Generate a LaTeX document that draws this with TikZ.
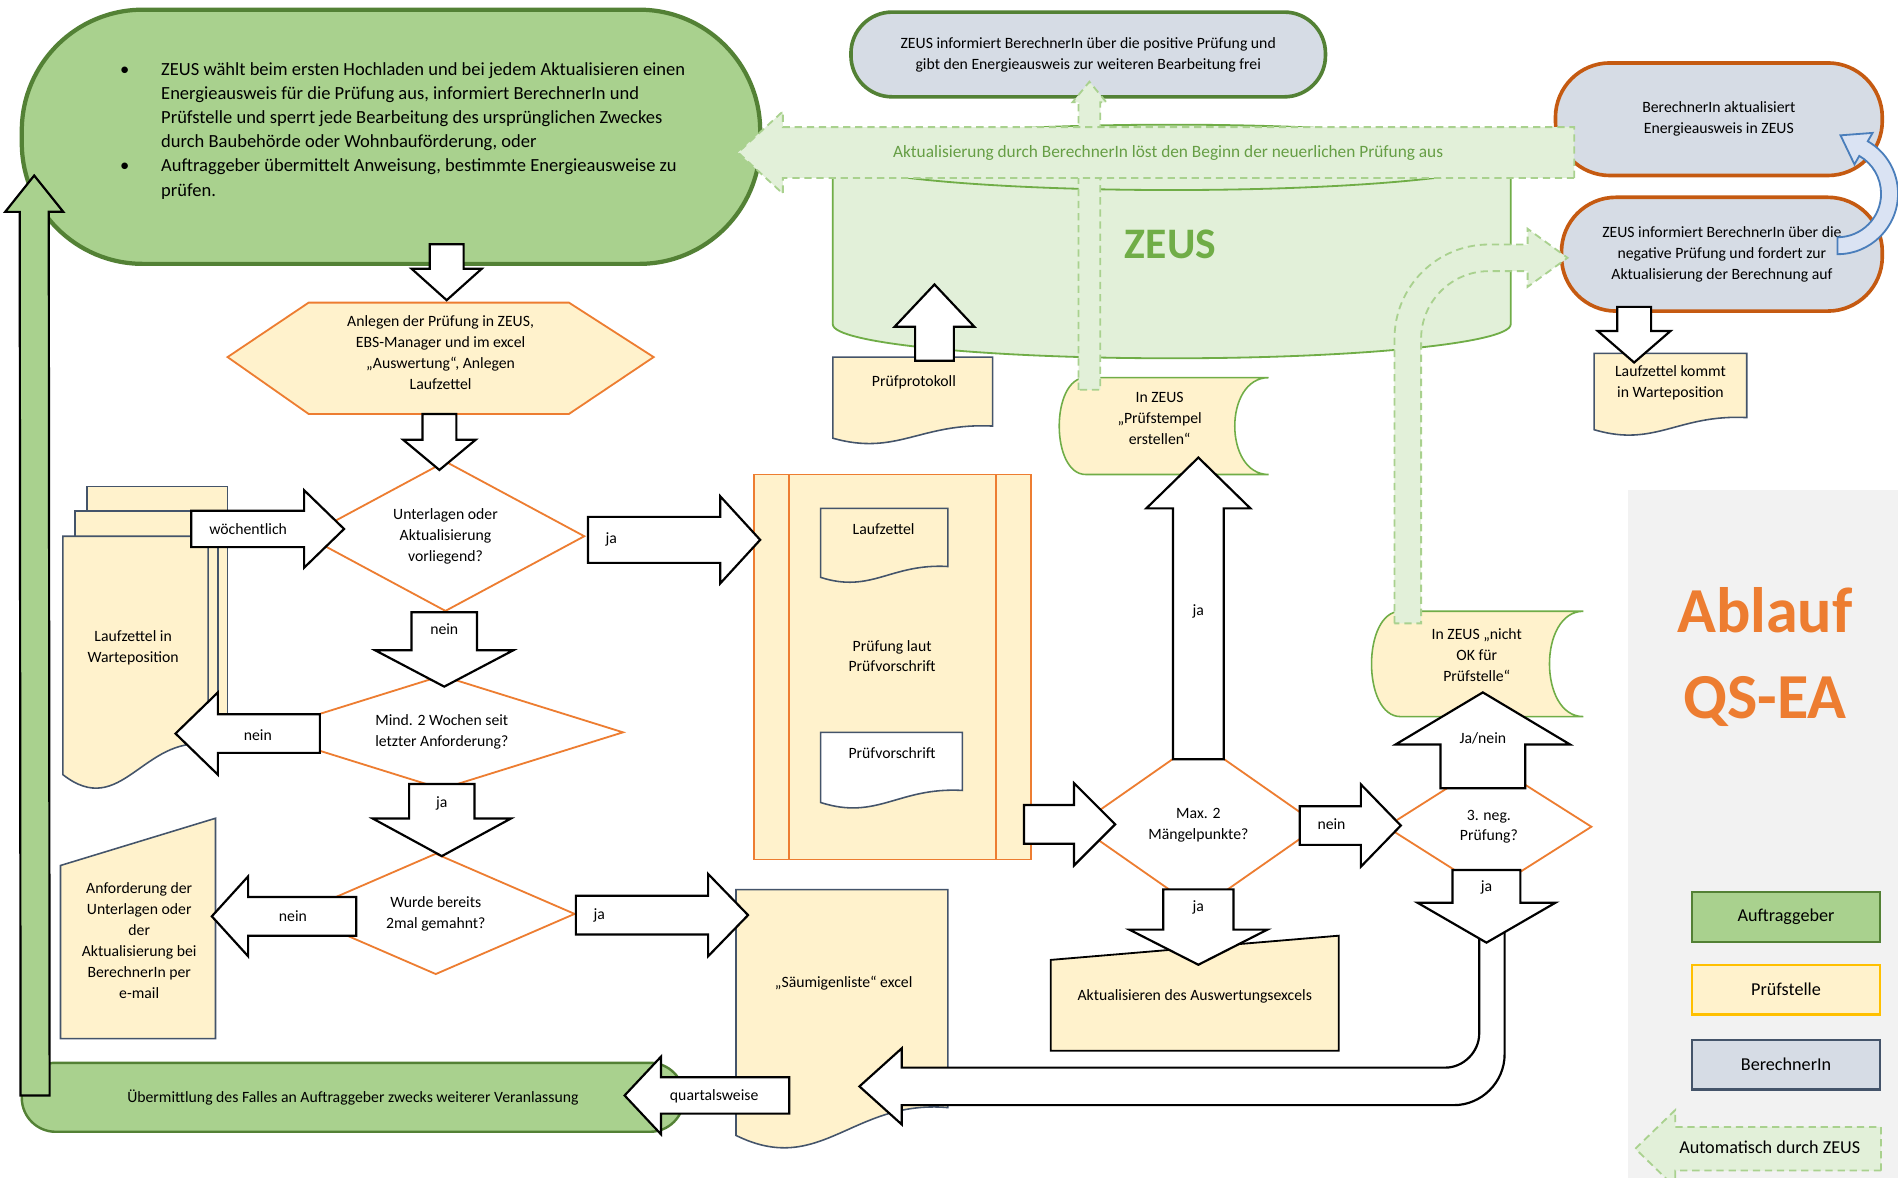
\documentclass[tikz,border=0pt]{standalone}
\usepackage{fontspec}
\setmainfont{Carlito}
\usetikzlibrary{shapes.geometric,calc}

\definecolor{auftraggruen}{HTML}{A9D18E}
\definecolor{auftragrand}{HTML}{538135}
\definecolor{pruefgelb}{HTML}{FFF2CC}
\definecolor{pruefrand}{HTML}{ED7D31}
\definecolor{legendgelb}{HTML}{FFC000}
\definecolor{berechnerblau}{HTML}{D6DCE5}
\definecolor{dokrand}{HTML}{44546A}
\definecolor{berechnerrand}{HTML}{C55A11}
\definecolor{zeusgruen}{HTML}{E2F0D9}
\definecolor{zeusrand}{HTML}{70AD47}
\definecolor{zeustext}{HTML}{669E45}
\definecolor{zeuslinie}{HTML}{A9D18E}
\definecolor{bogenblau}{HTML}{DAE3F3}
\definecolor{bogenrand}{HTML}{4A7EBB}
\definecolor{legendgrau}{HTML}{F2F2F2}

\newcommand{\smalltxt}{\fontsize{13}{17.3}\selectfont}
\newcommand{\legendtxt}{\fontsize{15}{18}\selectfont}

\tikzset{
  txt/.style={font=\smalltxt, align=center, inner sep=0pt},
  blockarrow/.style={draw=black, fill=white, line width=1.8pt, line join=miter},
  zeusarrow/.style={draw=zeuslinie, fill=zeusgruen, line width=1.5pt, dash pattern=on 6pt off 4pt},
  decision/.style={diamond, draw=pruefrand, fill=white, line width=1.5pt, inner sep=0pt, font=\smalltxt, align=center},
  prepshape/.style={draw=pruefrand, fill=pruefgelb, line width=1.5pt},
  docshape/.style={draw=dokrand, fill=pruefgelb, line width=1.3pt},
  stored/.style={draw=zeusrand, fill=pruefgelb, line width=1.3pt},
  terminal/.style={rectangle, line width=3pt, inner sep=0pt, font=\smalltxt, align=center},
  legendbox/.style={rectangle, line width=2pt, minimum width=155pt, minimum height=41pt, font=\legendtxt}
}

% block arrow: [options]{tail}{tip}{shaft half width}{head half width}{head length}
\newcommand{\barrow}[6][]{%
  \coordinate (ba-t) at (#2);
  \coordinate (ba-p) at (#3);
  \coordinate (ba-b) at ($(ba-p)!#6!(ba-t)$);
  \draw[blockarrow,#1] ($(ba-t)!#4!90:(ba-p)$) -- ($(ba-b)!#4!90:(ba-p)$)
    -- ($(ba-b)!#5!90:(ba-p)$) -- (ba-p) -- ($(ba-b)!#5!-90:(ba-p)$)
    -- ($(ba-b)!#4!-90:(ba-p)$) -- ($(ba-t)!#4!-90:(ba-p)$) -- cycle;}

% document: [options]{x1}{top}{x2}{right bottom}{left bottom}
\newcommand{\dokument}[6][]{%
  \draw[docshape,#1] (#2,#3) -- (#4,#3) -- (#4,#5)
    .. controls ({#4-0.45*(#4-#2)},{#5-0.3*(#6-#5)}) and ({#2+0.4*(#4-#2)},{#6+1.5*(#6-#5)}) .. (#2,#6) -- cycle;}

% stored data: {x1}{y1}{x2}{y2}{left bulge}{right hollow}
\newcommand{\speicher}[6]{%
  \draw[stored] ({#1+#5},#2) -- (#3,#2) .. controls ({#3-1.33*#6},#2) and ({#3-1.33*#6},#4) .. (#3,#4)
    -- ({#1+#5},#4) .. controls ({#1-0.33*#5},#4) and ({#1-0.33*#5},#2) .. ({#1+#5},#2) -- cycle;}

\begin{document}
\begin{tikzpicture}[x=1pt,y=-1pt]
\useasboundingbox (0,0) rectangle (1568,973);
\fill[white] (0,0) rectangle (1568,973);
\fill[legendgrau] (1345,405) rectangle (1568,973);

% ZEUS
\draw[zeusrand, fill=zeusgruen, line width=1.5pt] (688,130) -- (688,268)
  arc[start angle=180, end angle=0, x radius=280, y radius=28] -- (1248,130)
  arc[start angle=0, end angle=-180, x radius=280, y radius=27] -- cycle;
\draw[zeusrand, line width=1.5pt] (688,130) arc[start angle=180, end angle=0, x radius=280, y radius=27];
\node[font=\fontsize{36}{40}\selectfont\bfseries, text=zeusrand] (zeus) at (967,202) {ZEUS};

\speicher{875}{312}{1048}{392}{22}{28}
\node[txt] (stempel) at (958,346) {In ZEUS\\„Prüfstempel\\erstellen“};

\node[terminal, draw=auftragrand, fill=berechnerblau, minimum width=392pt, minimum height=70pt, rounded corners=34pt] (positiv) at (899,45)
  {ZEUS informiert BerechnerIn über die positive Prüfung und\\gibt den Energieausweis zur weiteren Bearbeitung frei};

\node[terminal, draw=auftragrand, fill=auftraggruen, line width=3.5pt, minimum width=610pt, minimum height=210pt, rounded corners=100pt] (auftrag) at (323,113) {};
\node[anchor=west, inner sep=0pt, font=\fontsize{15.3}{20}\selectfont] (auftragtxt) at (95,108) {%
  \begin{tabular}{@{}p{38pt}@{}l@{}}
  \hspace*{4pt}\textbullet & ZEUS wählt beim ersten Hochladen und bei jedem Aktualisieren einen\\
  & Energieausweis für die Prüfung aus, informiert BerechnerIn und\\
  & Prüfstelle und sperrt jede Bearbeitung des ursprünglichen Zweckes\\
  & durch Baubehörde oder Wohnbauförderung, oder\\
  \hspace*{4pt}\textbullet & Auftraggeber übermittelt Anweisung, bestimmte Energieausweise zu\\
  & prüfen.
  \end{tabular}};

\node[terminal, draw=berechnerrand, fill=berechnerblau, minimum width=270pt, minimum height=93pt, rounded corners=45pt] (aktualisiert) at (1420,98.5)
  {BerechnerIn aktualisiert\\Energieausweis in ZEUS};
\node[terminal, draw=berechnerrand, fill=berechnerblau, minimum width=265pt, minimum height=94pt, rounded corners=45pt] (negativ) at (1422.5,210)
  {ZEUS informiert BerechnerIn über die\\negative Prüfung und fordert zur\\Aktualisierung der Berechnung auf};

\speicher{1133}{505}{1308}{592}{24}{28}
\node[txt] (nichtok) at (1220,541) {In ZEUS „nicht\\OK für\\Prüfstelle“};

% automatisch durch ZEUS
\barrow[zeusarrow]{$(stempel)+(-58,-24)$}{$(positiv.south)+(1,-14)$}{9pt}{14pt}{17pt}
\draw[zeusarrow] (1152,515) -- (1152,280) .. controls (1152,236.9) and (1186.9,202) .. (1230,202) -- (1262,202) -- (1262,189)
  -- (1295,213) -- (1262,237) -- (1262,224) -- (1230,224) .. controls (1199.1,224) and (1174,249.1) .. (1174,280) -- (1174,515) -- cycle;
\barrow[zeusarrow]{$(aktualisiert.west)+(17,27.5)$}{$(auftrag.east)+(-20,13)$}{21pt}{34pt}{37pt}
\node[font=\fontsize{14.3}{16}\selectfont, text=zeustext] (aktband) at (965,126) {Aktualisierung durch BerechnerIn löst den Beginn der neuerlichen Prüfung aus};

\draw[fill=bogenblau, draw=bogenrand, line width=1.5pt] (1518,196) -- (1518,210) .. controls (1545.6,210) and (1568,187.6) .. (1568,160)
  .. controls (1568,142.1) and (1558.5,125.6) .. (1543,116.7) -- (1547,109.8) -- (1520.5,111.8) -- (1532,135.8) -- (1536,128.8)
  .. controls (1547.1,135.2) and (1554,147.1) .. (1554,160) .. controls (1554,179.9) and (1537.9,196) .. (1518,196) -- cycle;

\dokument{688}{295}{820}{352}{362}
\node[txt] (protokoll) at (755,316) {Prüfprotokoll};
\barrow{$(protokoll)+(17,-18)$}{$(zeus)+(-195,33)$}{16pt}{33pt}{35pt}

\dokument{1317}{292}{1443}{345}{355}
\barrow{$(negativ.south)+(-72.5,-5)$}{$(negativ.south)+(-72.5,41)$}{14pt}{30pt}{26pt}
\node[txt] (warte) at (1380,316) {Laufzettel kommt\\in Warteposition};

% Prüfstelle
\draw[prepshape] (188,295) -- (255,250) -- (470,250) -- (540,295) -- (470,342) -- (255,342) -- cycle;
\node[txt] (anlegen) at (364,291) {Anlegen der Prüfung in ZEUS,\\EBS-Manager und im excel\\„Auswertung“, Anlegen\\Laufzettel};

\node[decision, minimum width=230pt, minimum height=124pt, shape aspect=1.85] (unterlagen) at (368,443) {Unterlagen oder\\Aktualisierung\\vorliegend?};
\node[decision, minimum width=300pt, minimum height=94pt, shape aspect=3.2] (mind) at (365,605) {Mind. 2 Wochen seit\\letzter Anforderung?};
\node[decision, minimum width=230pt, minimum height=100pt, shape aspect=2.3] (gemahnt) at (360,755) {Wurde bereits\\2mal gemahnt?};
\node[decision, minimum width=200pt, minimum height=140pt, shape aspect=1.43] (maxzwei) at (990,682) {Max. 2\\Mängelpunkte?};
\node[decision, minimum width=170pt, minimum height=108pt, shape aspect=1.57] (negpruef) at (1230,683) {3. neg.\\Prüfung?};

\draw[docshape] (72,402) rectangle (188,590);
\draw[docshape] (62,422) rectangle (180,592);
\dokument{52}{443}{172}{615}{640}
\node[txt] (stapel) at (110,535) {Laufzettel in\\Warteposition};

\draw[docshape] (50,715) -- (178,676) -- (178,858) -- (50,858) -- cycle;
\node[txt] (anforderung) at (115,777) {Anforderung der\\Unterlagen oder\\der\\Aktualisierung bei\\BerechnerIn per\\e-mail};

\node[terminal, draw=auftragrand, fill=auftraggruen, line width=2pt, minimum width=547pt, minimum height=57pt, rounded corners=28pt] (uebermittlung) at (291.5,906.5)
  {Übermittlung des Falles an Auftraggeber zwecks weiterer Veranlassung};

\dokument{608}{735}{783}{915}{938}
\node[txt] (saeumig) at (697,812) {„Säumigenliste“ excel};

\draw[prepshape] (623,392) rectangle (852,710);
\draw[pruefrand, line width=1.5pt] (652,392) -- (652,710) (823,392) -- (823,710);
\dokument{678}{420}{783}{468}{477}
\node[txt] (laufzettel) at (730,437) {Laufzettel};
\node[txt] (pruefung) at (737,542) {Prüfung laut\\Prüfvorschrift};
\dokument[fill=white]{678}{605}{795}{653}{663}
\node[txt] (pruefvorschrift) at (737,622) {Prüfvorschrift};

\draw[docshape, draw=black, line width=1.5pt] (868,793) -- (1106,773) -- (1106,868) -- (868,868) -- cycle;
\node[txt] (aktualisieren) at (987,823) {Aktualisieren des Auswertungsexcels};

% Pfeile
\barrow{$(auftrag.south)+(46,-18)$}{$(anlegen)+(5,-43)$}{14pt}{29pt}{26pt}
\barrow{$(anlegen)+(-1,51)$}{$(unterlagen.north)+(-5,8)$}{14pt}{30pt}{25pt}
\barrow{$(stapel)+(48,-98)$}{$(unterlagen.west)+(32,-6)$}{15pt}{32pt}{33pt}
\node[txt] (l-woe) at (205,437) {wöchentlich};
\barrow{$(unterlagen.east)+(2,3)$}{$(pruefung)+(-109,-96)$}{19pt}{36pt}{33pt}
\node[txt] (l-ja1) at (505,446) {ja};
\barrow{$(unterlagen.south)+(-1,0)$}{$(mind.north)+(2,10)$}{27pt}{57pt}{30pt}
\node[txt] (l-nein1) at (367,520) {nein};
\barrow{$(mind.west)+(50,1)$}{$(stapel)+(35,71)$}{16pt}{34pt}{35pt}
\node[txt] (l-nein2) at (213,607) {nein};
\barrow{$(mind.south)+(0,-5)$}{$(gemahnt.north)+(5,3)$}{27pt}{57pt}{31pt}
\node[txt] (l-ja2) at (365,664) {ja};
\barrow{$(gemahnt.west)+(50,2)$}{$(anforderung)+(60,-20)$}{16pt}{33pt}{30pt}
\node[txt] (l-nein3) at (242,757) {nein};
\barrow{$(gemahnt.east)+(0,1)$}{$(saeumig)+(-79,-56)$}{16pt}{34pt}{33pt}
\node[txt] (l-ja3) at (495,756) {ja};
\barrow{$(saeumig)+(-45,93)$}{$(uebermittlung.east)+(-50,-1.5)$}{15pt}{32pt}{30pt}
\node[txt] (l-quartal) at (590,906) {quartalsweise};
\barrow{$(pruefung)+(109,139)$}{$(maxzwei.west)+(32,-1)$}{16pt}{34pt}{34pt}
\barrow{$(maxzwei.north)+(0,16)$}{$(stempel)+(32,32)$}{21pt}{43pt}{42pt}
\node[txt] (l-ja4) at (990,505) {ja};
\barrow{$(maxzwei.south)+(0,-18)$}{$(aktualisieren)+(3,-26)$}{29pt}{57pt}{29pt}
\node[txt] (l-ja5) at (990,750) {ja};
\barrow{$(maxzwei.east)+(-17,0)$}{$(negpruef.west)+(13,-1)$}{16pt}{34pt}{33pt}
\node[txt] (l-nein4) at (1100,681) {nein};
\barrow{$(negpruef.north)+(-5,23)$}{$(nichtok)+(5,31)$}{35pt}{72pt}{43pt}
\node[txt] (l-janein) at (1225,610) {Ja/nein};

\draw[blockarrow] (1222,760) -- (1222,854) .. controls (1222,869) and (1209,882) .. (1194,882) -- (745,882) -- (745,866) -- (710,897.5)
  -- (745,929) -- (745,913) -- (1201,913) .. controls (1224,913) and (1243,894) .. (1243,871) -- (1243,760) -- cycle;
\barrow{$(negpruef.south)+(-2,-19)$}{$(negpruef.south)+(-2,41)$}{28pt}{57pt}{33pt}
\node[txt] (l-ja6) at (1228,733) {ja};

\barrow[fill=auftraggruen]{$(uebermittlung.west)+(12,-1.5)$}{$(auftrag.west)+(12,32)$}{12pt}{24pt}{30pt}

% Legende
\node[font=\fontsize{53}{71}\selectfont\bfseries, text=pruefrand, align=center, inner sep=0pt] (ablauf) at (1458,543) {Ablauf\\QS-EA};
\node[legendbox, draw=auftragrand, fill=auftraggruen] (lgauf) at (1475.5,757.5) {Auftraggeber};
\node[legendbox, draw=legendgelb, fill=pruefgelb] (lgpruef) at (1475.5,817.5) {Prüfstelle};
\node[legendbox, draw=dokrand, fill=berechnerblau] (lgber) at (1475.5,879.5) {BerechnerIn};
\barrow[zeusarrow]{$(lgber.south east)+(0,48)$}{$(lgber.south west)+(-46,48)$}{18pt}{32pt}{33pt}
\node[font=\legendtxt] (automatisch) at (1462,948) {Automatisch durch ZEUS};
\end{tikzpicture}
\end{document}
